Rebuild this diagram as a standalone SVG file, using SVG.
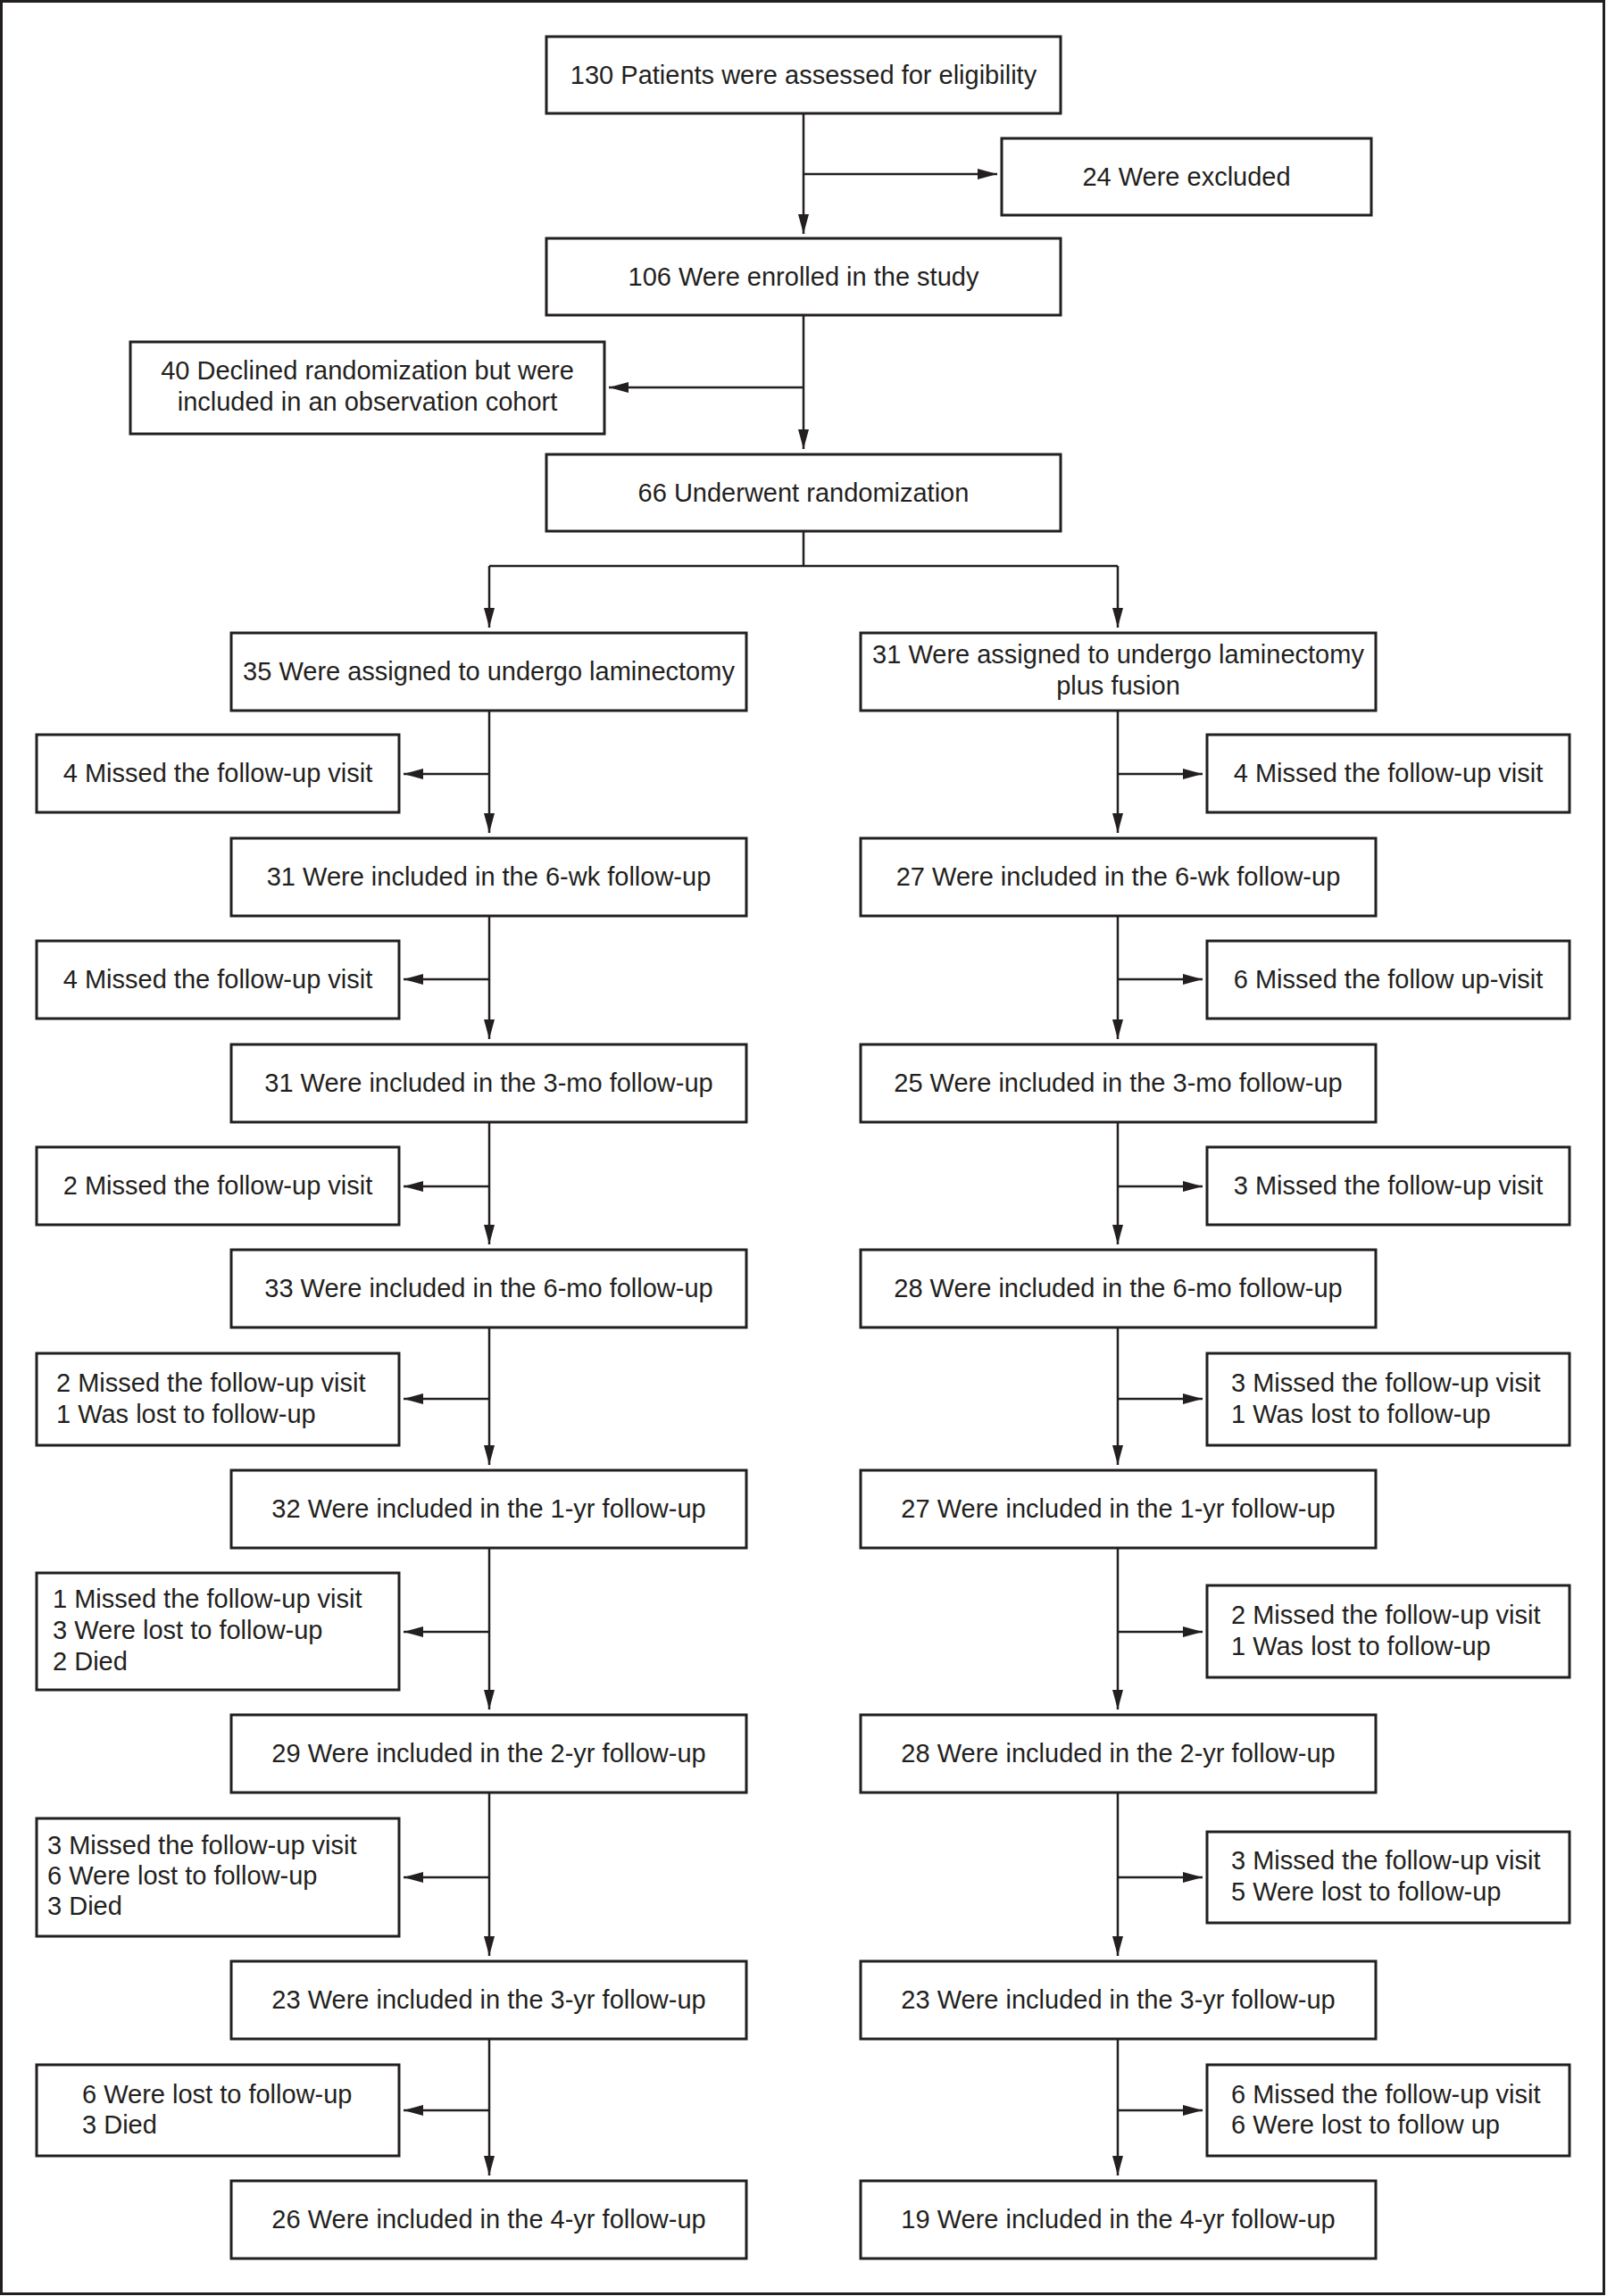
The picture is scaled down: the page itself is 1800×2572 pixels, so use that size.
<svg xmlns="http://www.w3.org/2000/svg" width="1800" height="2572" viewBox="0 0 1800 2572">
<style>
  .bx { fill: #ffffff; stroke: #231f20; stroke-width: 3; }
  .t { font-family: "Liberation Sans", Arial, sans-serif; font-size: 29px; fill: #231f20; }
  .c { text-anchor: middle; }
  .ln { fill: none; stroke: #231f20; stroke-width: 2.5; }
  .ar { fill: none; stroke: #231f20; stroke-width: 2.5; marker-end: url(#ah); }
</style>
<defs>
  <marker id="ah" markerUnits="userSpaceOnUse" markerWidth="24" markerHeight="14" refX="22" refY="6" orient="auto">
    <path d="M0,0 L22,6 L0,12 z" fill="#231f20"/>
  </marker>
</defs>
<rect x="0" y="0" width="1800" height="2572" fill="#ffffff"/>
<rect x="1.5" y="1.5" width="1795" height="2568" fill="none" stroke="#231f20" stroke-width="3"/>

<g id="connectors">
  <path class="ar" d="M900,127 V262"/>
  <path class="ar" d="M900,195 H1117"/>
  <path class="ar" d="M900,353 V503"/>
  <path class="ar" d="M900,434 H682"/>
  <path class="ln" d="M900,595 V634 M548,634 H1252"/>
  <path class="ar" d="M548,634 V703"/>
  <path class="ar" d="M1252,634 V703"/>

  <path class="ar" d="M548,796 V933"/>
  <path class="ar" d="M548,867 H452"/>
  <path class="ar" d="M548,1026 V1164"/>
  <path class="ar" d="M548,1097 H452"/>
  <path class="ar" d="M548,1257 V1394"/>
  <path class="ar" d="M548,1329 H452"/>
  <path class="ar" d="M548,1487 V1641"/>
  <path class="ar" d="M548,1567 H452"/>
  <path class="ar" d="M548,1734 V1915"/>
  <path class="ar" d="M548,1828 H452"/>
  <path class="ar" d="M548,2008 V2191"/>
  <path class="ar" d="M548,2103 H452"/>
  <path class="ar" d="M548,2284 V2437"/>
  <path class="ar" d="M548,2364 H452"/>

  <path class="ar" d="M1252,796 V933"/>
  <path class="ar" d="M1252,867 H1347"/>
  <path class="ar" d="M1252,1026 V1164"/>
  <path class="ar" d="M1252,1097 H1347"/>
  <path class="ar" d="M1252,1257 V1394"/>
  <path class="ar" d="M1252,1329 H1347"/>
  <path class="ar" d="M1252,1487 V1641"/>
  <path class="ar" d="M1252,1567 H1347"/>
  <path class="ar" d="M1252,1734 V1915"/>
  <path class="ar" d="M1252,1828 H1347"/>
  <path class="ar" d="M1252,2008 V2191"/>
  <path class="ar" d="M1252,2103 H1347"/>
  <path class="ar" d="M1252,2284 V2437"/>
  <path class="ar" d="M1252,2364 H1347"/>
</g>

<g id="n-assessed"><rect class="bx" x="612" y="41" width="576" height="86"/><text class="t c" x="900" y="94">130 Patients were assessed for eligibility</text></g>
<g id="n-excluded"><rect class="bx" x="1122" y="155" width="414" height="86"/><text class="t c" x="1329" y="208">24 Were excluded</text></g>
<g id="n-enrolled"><rect class="bx" x="612" y="267" width="576" height="86"/><text class="t c" x="900" y="320">106 Were enrolled in the study</text></g>
<g id="n-declined"><rect class="bx" x="146" y="383" width="531" height="103"/><text class="t c" x="411.5" y="425">40 Declined randomization but were</text><text class="t c" x="411.5" y="460">included in an observation cohort</text></g>
<g id="n-random"><rect class="bx" x="612" y="509" width="576" height="86"/><text class="t c" x="900" y="562">66 Underwent randomization</text></g>

<g id="l-assigned"><rect class="bx" x="259" y="709" width="577" height="87"/><text class="t c" x="547.5" y="762">35 Were assigned to undergo laminectomy</text></g>
<g id="r-assigned"><rect class="bx" x="964" y="709" width="577" height="87"/><text class="t c" x="1252.5" y="743">31 Were assigned to undergo laminectomy</text><text class="t c" x="1252.5" y="778">plus fusion</text></g>

<g id="l-6wk"><rect class="bx" x="259" y="939" width="577" height="87"/><text class="t c" x="547.5" y="992">31 Were included in the 6-wk follow-up</text></g>
<g id="r-6wk"><rect class="bx" x="964" y="939" width="577" height="87"/><text class="t c" x="1252.5" y="992">27 Were included in the 6-wk follow-up</text></g>
<g id="l-3mo"><rect class="bx" x="259" y="1170" width="577" height="87"/><text class="t c" x="547.5" y="1223">31 Were included in the 3-mo follow-up</text></g>
<g id="r-3mo"><rect class="bx" x="964" y="1170" width="577" height="87"/><text class="t c" x="1252.5" y="1223">25 Were included in the 3-mo follow-up</text></g>
<g id="l-6mo"><rect class="bx" x="259" y="1400" width="577" height="87"/><text class="t c" x="547.5" y="1453">33 Were included in the 6-mo follow-up</text></g>
<g id="r-6mo"><rect class="bx" x="964" y="1400" width="577" height="87"/><text class="t c" x="1252.5" y="1453">28 Were included in the 6-mo follow-up</text></g>
<g id="l-1yr"><rect class="bx" x="259" y="1647" width="577" height="87"/><text class="t c" x="547.5" y="1700">32 Were included in the 1-yr follow-up</text></g>
<g id="r-1yr"><rect class="bx" x="964" y="1647" width="577" height="87"/><text class="t c" x="1252.5" y="1700">27 Were included in the 1-yr follow-up</text></g>
<g id="l-2yr"><rect class="bx" x="259" y="1921" width="577" height="87"/><text class="t c" x="547.5" y="1974">29 Were included in the 2-yr follow-up</text></g>
<g id="r-2yr"><rect class="bx" x="964" y="1921" width="577" height="87"/><text class="t c" x="1252.5" y="1974">28 Were included in the 2-yr follow-up</text></g>
<g id="l-3yr"><rect class="bx" x="259" y="2197" width="577" height="87"/><text class="t c" x="547.5" y="2250">23 Were included in the 3-yr follow-up</text></g>
<g id="r-3yr"><rect class="bx" x="964" y="2197" width="577" height="87"/><text class="t c" x="1252.5" y="2250">23 Were included in the 3-yr follow-up</text></g>
<g id="l-4yr"><rect class="bx" x="259" y="2443" width="577" height="87"/><text class="t c" x="547.5" y="2496">26 Were included in the 4-yr follow-up</text></g>
<g id="r-4yr"><rect class="bx" x="964" y="2443" width="577" height="87"/><text class="t c" x="1252.5" y="2496">19 Were included in the 4-yr follow-up</text></g>

<g id="l-miss1"><rect class="bx" x="41" y="823" width="406" height="87"/><text class="t c" x="244" y="876">4 Missed the follow-up visit</text></g>
<g id="l-miss2"><rect class="bx" x="41" y="1054" width="406" height="87"/><text class="t c" x="244" y="1107">4 Missed the follow-up visit</text></g>
<g id="l-miss3"><rect class="bx" x="41" y="1285" width="406" height="87"/><text class="t c" x="244" y="1338">2 Missed the follow-up visit</text></g>
<g id="l-miss4"><rect class="bx" x="41" y="1516" width="406" height="103"/><text class="t" x="63" y="1559">2 Missed the follow-up visit</text><text class="t" x="63" y="1594">1 Was lost to follow-up</text></g>
<g id="l-miss5"><rect class="bx" x="41" y="1762" width="406" height="131"/><text class="t" x="59" y="1801">1 Missed the follow-up visit</text><text class="t" x="59" y="1836">3 Were lost to follow-up</text><text class="t" x="59" y="1871">2 Died</text></g>
<g id="l-miss6"><rect class="bx" x="41" y="2037" width="406" height="132"/><text class="t" x="53" y="2077">3 Missed the follow-up visit</text><text class="t" x="53" y="2111">6 Were lost to follow-up</text><text class="t" x="53" y="2145">3 Died</text></g>
<g id="l-miss7"><rect class="bx" x="41" y="2313" width="406" height="102"/><text class="t" x="92" y="2356">6 Were lost to follow-up</text><text class="t" x="92" y="2390">3 Died</text></g>

<g id="r-miss1"><rect class="bx" x="1352" y="823" width="406" height="87"/><text class="t c" x="1555" y="876">4 Missed the follow-up visit</text></g>
<g id="r-miss2"><rect class="bx" x="1352" y="1054" width="406" height="87"/><text class="t c" x="1555" y="1107">6 Missed the follow up-visit</text></g>
<g id="r-miss3"><rect class="bx" x="1352" y="1285" width="406" height="87"/><text class="t c" x="1555" y="1338">3 Missed the follow-up visit</text></g>
<g id="r-miss4"><rect class="bx" x="1352" y="1516" width="406" height="103"/><text class="t" x="1379" y="1559">3 Missed the follow-up visit</text><text class="t" x="1379" y="1594">1 Was lost to follow-up</text></g>
<g id="r-miss5"><rect class="bx" x="1352" y="1776" width="406" height="103"/><text class="t" x="1379" y="1819">2 Missed the follow-up visit</text><text class="t" x="1379" y="1854">1 Was lost to follow-up</text></g>
<g id="r-miss6"><rect class="bx" x="1352" y="2052" width="406" height="102"/><text class="t" x="1379" y="2094">3 Missed the follow-up visit</text><text class="t" x="1379" y="2129">5 Were lost to follow-up</text></g>
<g id="r-miss7"><rect class="bx" x="1352" y="2313" width="406" height="102"/><text class="t" x="1379" y="2356">6 Missed the follow-up visit</text><text class="t" x="1379" y="2390">6 Were lost to follow up</text></g>
</svg>
